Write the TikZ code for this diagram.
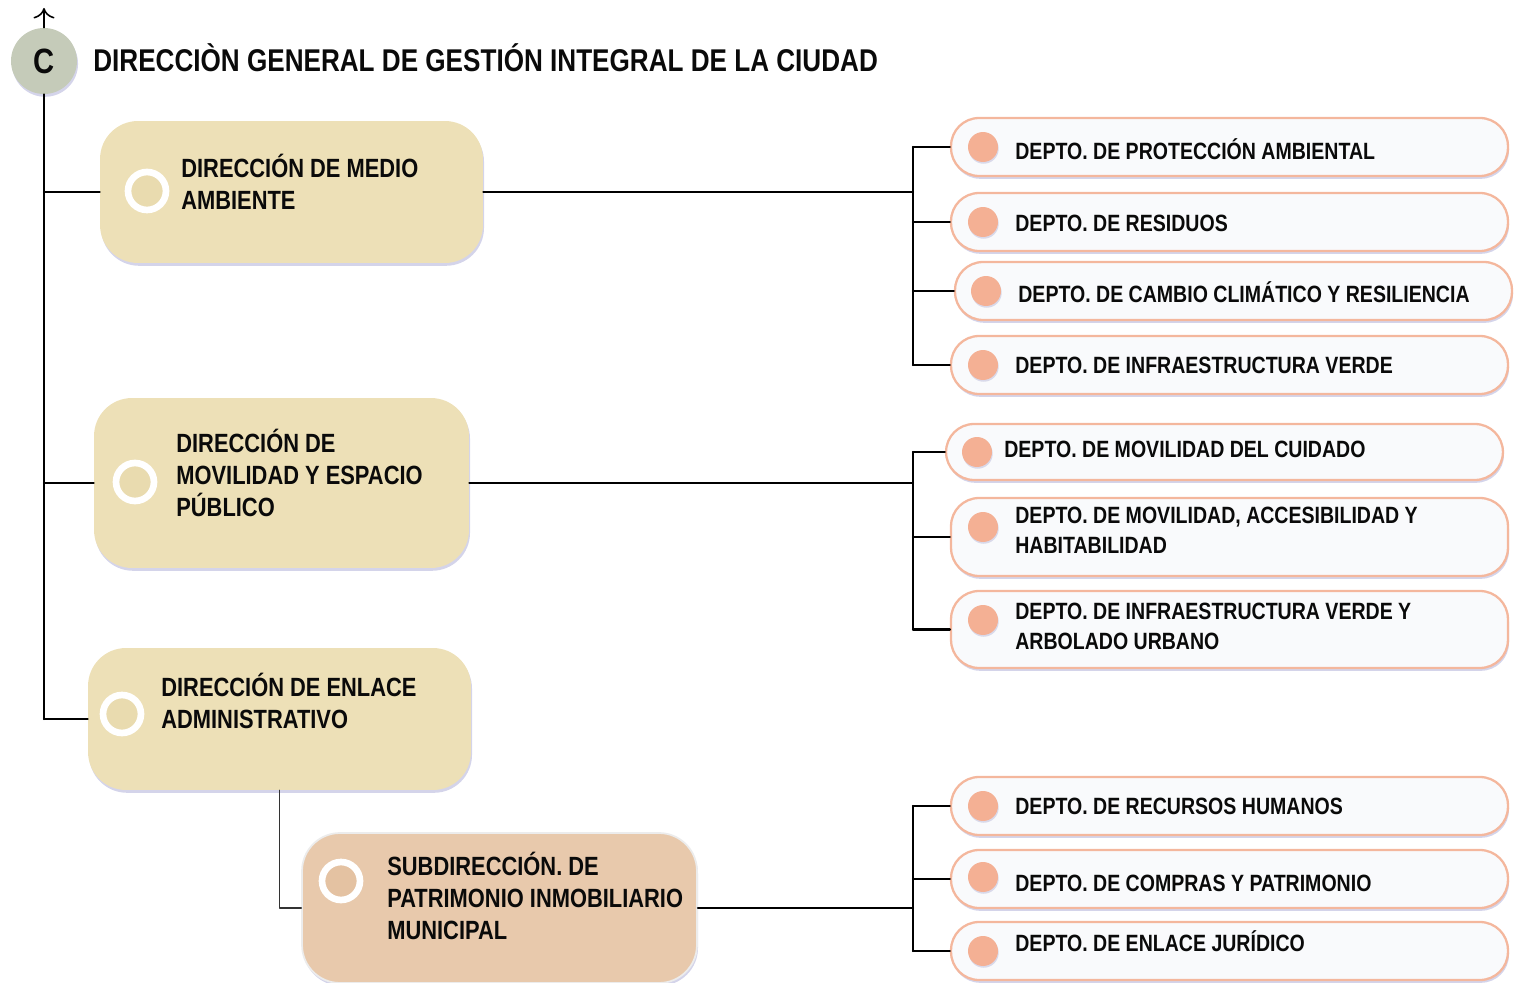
\documentclass[tikz,border=0pt]{standalone}
\usepackage{fontspec}
\setmainfont{Liberation Sans}[FakeStretch=0.83]
\usetikzlibrary{shadows,positioning,arrows.meta}
\definecolor{circC}{HTML}{C5CBB9}
\definecolor{dirfill}{HTML}{EDE0B7}
\definecolor{dirdot}{HTML}{E9DBAF}
\definecolor{subfill}{HTML}{E8C9AC}
\definecolor{subdot}{HTML}{E4C2A2}
\definecolor{deptline}{HTML}{F4B79D}
\definecolor{deptdot}{HTML}{F4B094}
\definecolor{deptfill}{HTML}{F9FAFC}
\definecolor{txt}{HTML}{0A0A0A}
\begin{document}
\begin{tikzpicture}[x=0.02cm,y=-0.02cm,line join=round,line cap=round,font=\bfseries,text=txt]
    \tikzset{
        soft/.style={drop shadow={shadow xshift=0.6pt,shadow yshift=-1.6pt,fill=blue!35!gray,opacity=.25}},
        dirbox/.style={soft,rectangle,rounded corners=0.76cm,inner sep=0pt},
        deptbox/.style={soft,rectangle,rounded corners=0.56cm,draw=deptline,line width=1.3pt,fill=deptfill,minimum width=11.14cm,inner sep=0pt},
        ring/.style={circle,draw=white,line width=3.8pt,minimum size=0.76cm,inner sep=0pt,drop shadow={shadow xshift=0.5pt,shadow yshift=-1.2pt,fill=blue!30!gray,opacity=.3}},
        dot/.style={circle,fill=deptdot,minimum size=0.6cm,inner sep=0pt,drop shadow={shadow xshift=0.4pt,shadow yshift=-1pt,fill=blue!30!gray,opacity=.2}},
        dirtxt/.style={anchor=west,align=left,font=\fontsize{15}{18}\bfseries\selectfont,inner sep=0pt},
        depttxt/.style={anchor=west,align=left,font=\fontsize{13.4}{17}\bfseries\selectfont,inner sep=0pt},
        conn/.style={line width=1.25pt,black}
    }
    \useasboundingbox (0,0) rectangle (1516,983);

    % cabecera
    \node[circle,fill=circC,minimum size=1.32cm,inner sep=0pt,soft,font=\fontsize{20}{24}\bfseries\selectfont] (root) at (44,61) {C};
    \node[anchor=west,inner sep=0pt,font=\fontsize{17.9}{21}\bfseries\selectfont] (ttl) at (93,58) {DIRECCIÒN GENERAL DE GESTIÓN INTEGRAL DE LA CIUDAD};
    \coordinate (top) at (44,8);
    \draw[line width=0.9pt,-{To[length=6pt,width=12pt]}] (root) -- (top);

    % direcciones
    \node[dirbox,fill=dirfill,minimum width=7.66cm,minimum height=2.84cm] (dma) at (291.5,192) {};
    \node[ring,fill=dirdot] (rdma) at (147,191) {};
    \node[dirtxt] (tdma) at (181,182) {DIRECCIÓN DE MEDIO\\AMBIENTE};

    \node[dirbox,fill=dirfill,minimum width=7.5cm,minimum height=3.4cm] (dmov) at (281.5,483) {};
    \node[ring,fill=dirdot] (rdmov) at (135,482) {};
    \node[dirtxt] (tdmov) at (176,473) {DIRECCIÓN DE\\MOVILIDAD Y ESPACIO\\PÚBLICO};

    \node[dirbox,fill=dirfill,minimum width=7.66cm,minimum height=2.84cm] (denl) at (279.5,719) {};
    \node[ring,fill=dirdot] (rdenl) at (122,714) {};
    \node[dirtxt] (tdenl) at (161,701) {DIRECCIÓN DE ENLACE\\ADMINISTRATIVO};

    \node[dirbox,fill=subfill,draw=gray!15,line width=1pt,minimum width=7.9cm,minimum height=3.0cm] (subp) at (499.5,908) {};
    \node[ring,fill=subdot] (rsubp) at (341,881) {};
    \node[dirtxt] (tsubp) at (387,896) {SUBDIRECCIÓN. DE\\PATRIMONIO INMOBILIARIO\\MUNICIPAL};

    % departamentos
    \foreach \n/\cx/\cy/\h/\dx/\dy/\tx/\ty/\t in {
        d1/1229.5/147/1.16/983/147/1015/149/{DEPTO. DE PROTECCIÓN AMBIENTAL},
        d2/1229.5/222/1.16/983/222/1015/223/{DEPTO. DE RESIDUOS},
        d3/1233.5/291/1.16/986/291/1018/292/{DEPTO. DE CAMBIO CLIMÁTICO Y RESILIENCIA},
        d4/1229.5/365/1.16/983/365/1015/365/{DEPTO. DE INFRAESTRUCTURA VERDE},
        d5/1224.5/452/1.12/977/452/1004/449/{DEPTO. DE MOVILIDAD DEL CUIDADO},
        d6/1229.5/537/1.56/983/527/1015/530/{DEPTO. DE MOVILIDAD, ACCESIBILIDAD Y\\HABITABILIDAD},
        d7/1229.5/629.5/1.54/983/620/1015/626/{DEPTO. DE INFRAESTRUCTURA VERDE Y\\ARBOLADO URBANO},
        d8/1229.5/806/1.16/983/806/1015/806/{DEPTO. DE RECURSOS HUMANOS},
        d9/1229.5/879/1.16/983/877/1015/883/{DEPTO. DE COMPRAS Y PATRIMONIO},
        d10/1229.5/951/1.16/983/951/1015/941/{DEPTO. DE ENLACE JURÍDICO}}
    {
        \node[deptbox,minimum height=\h cm] (\n) at (\cx,\cy) {};
        \node[dot] (\n dot) at (\dx,\dy) {};
        \node[depttxt] (\n txt) at (\tx,\ty) {\t};
    }

    % conectores
    \coordinate (bus1) at (913,192);
    \coordinate (bus2) at (913,483);
    \coordinate (bus3) at (913,908);
    \draw[conn] (root.south) -- (root.south |- denl.west);
    \foreach \b in {dma,dmov,denl}
        \draw[conn] (root.south |- \b.west) -- (\b.west);
    \draw[line width=0.9pt,black!80] (denl.south) |- (subp.west);
    \draw[conn] (dma.east) -- (bus1);
    \draw[conn] (dmov.east) -- (bus2);
    \draw[conn] (subp.east) -- (bus3);
    \draw[conn] (bus1 |- d1.west) -- (bus1 |- d4.west);
    \draw[conn] (bus2 |- d5.west) -- (bus2 |- d7.west);
    \draw[conn] (bus3 |- d8.west) -- (bus3 |- d10.west);
    \foreach \d/\b in {d1/bus1,d2/bus1,d3/bus1,d4/bus1,d5/bus2,d6/bus2,d7/bus2,d8/bus3,d9/bus3,d10/bus3}
        \draw[conn] (\b |- \d.west) -- (\d.west);
\end{tikzpicture}
\end{document}
